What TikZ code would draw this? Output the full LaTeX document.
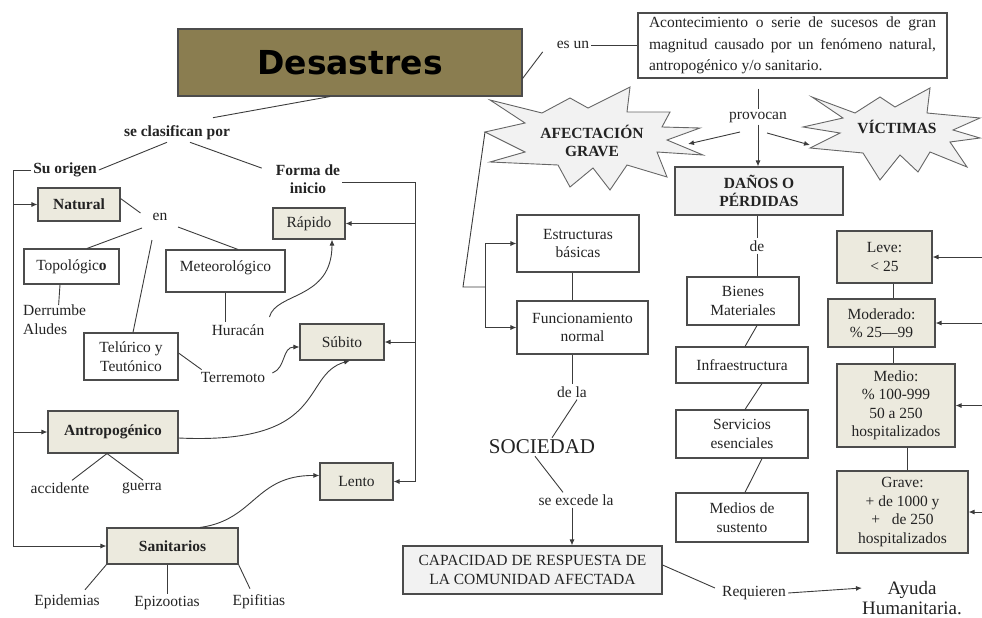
\documentclass[tikz,border=0pt]{standalone}
\usepackage{fontspec}
\setmainfont{Liberation Serif}
\newfontfamily\heavyfont{DejaVu Sans}
\usetikzlibrary{arrows.meta,calc}
\definecolor{dolive}{RGB}{138,125,80}
\definecolor{beigefill}{RGB}{236,234,222}
\definecolor{lgray}{RGB}{242,242,242}
\definecolor{linec}{RGB}{60,60,60}
\definecolor{txt}{RGB}{35,35,35}
\begin{document}
\begin{tikzpicture}[x=1pt,y=-1pt,
  every node/.style={font=\fontsize{15.5}{18.5}\selectfont, text=txt, inner sep=2pt, align=center},
  bold/.style={font=\fontsize{15.5}{18.5}\selectfont\bfseries},
  bx/.style={draw=black!70, line width=1.1pt, fill=white, inner sep=0pt},
  bb/.style={bx, fill=beigefill},
  ln/.style={draw=linec, line width=0.9pt},
  ar/.style={ln, -{Latex[length=6pt,width=5pt]}},
  burst/.style={draw=black!60, line width=0.9pt, fill=lgray, line join=miter}
  ]
\useasboundingbox (0,0) rectangle (982,618);

% ---------- title ----------
\node[draw=black!70, line width=1.1pt, fill=dolive, minimum width=344pt, minimum height=67pt,
      font=\heavyfont\bfseries\fontsize{33}{36}\selectfont, text=black] (desastres) at (350,62.5) {Desastres};

% ---------- left part ----------
\node[bold] (clasif) at (177,133) {se clasifican por};
\node[bold] (suorigen) at (65,170) {Su origen};
\node[bold] (forma) at (308,179) {Forma de\\inicio};

\node[bb, minimum width=82pt, minimum height=33pt, bold] (natural) at (79,204.5) {Natural};
\node (en) at (160,217) {en};
\node[bx, minimum width=95pt, minimum height=35pt] (topo) at (71.5,266.5) {Topológic\textbf{o}};
\node[bx, minimum width=119pt, minimum height=42pt, text height=10pt, text depth=10pt] (meteo) at (225.5,271) {Meteorológico};
\node[align=left, anchor=north west, inner sep=0pt] (derrumbe) at (23,305) {Derrumbe\\Aludes};
\node (huracan) at (238,330) {Huracán};
\node[bx, minimum width=94pt, minimum height=47pt] (telurico) at (131,356.5) {Telúrico y\\Teutónico};
\node (terremoto) at (233,377) {Terremoto};

\node[bb, minimum width=72pt, minimum height=31pt] (rapido) at (309,223.5) {Rápido};
\node[bb, minimum width=84pt, minimum height=36pt] (subito) at (342,342) {Súbito};
\node[bb, minimum width=73pt, minimum height=37pt] (lento) at (356.5,481.5) {Lento};

\node[bb, minimum width=130pt, minimum height=42pt, bold] (antropo) at (113,432) {Antropogénico};
\node (accidente) at (60,488) {accidente};
\node (guerra) at (142,488) {guerra};

\node[bb, minimum width=131pt, minimum height=36pt, bold] (sanit) at (172.5,546) {Sanitarios};
\node (epidemias) at (67,602) {Epidemias};
\node (epizootias) at (167,603) {Epizootias};
\node (epifitias) at (259,602) {Epifitias};

% ---------- right part ----------
\node (esun) at (573,45) {es un};
\node[bx, minimum width=309pt, minimum height=65pt, text width=287pt, align=justify,
      font=\fontsize{15.5}{21.5}\selectfont] (acont) at (792.5,45.5)
  {\hyphenpenalty=10000\relax Acontecimiento o serie de sucesos de gran magnitud causado por un fenómeno natural, antropogénico y/o sanitario.};
\node (provocan) at (758,117) {provocan};

\draw[burst] (490,100) -- (542,113) -- (570,98) -- (588,108) -- (630,87) -- (627,112) -- (670,112) -- (662,127)
  -- (700,128) -- (667,140) -- (703,155) -- (657,152) -- (667,177) -- (627,165) -- (610,190) -- (593,168)
  -- (570,187) -- (558,165) -- (490,162) -- (525,152) -- (485,132) -- (525,123) -- cycle;
\node[bold] (afect) at (592,141) {AFECTACIÓN\\GRAVE};

\draw[burst] (812,97) -- (855,113) -- (880,97) -- (895,107) -- (930,88) -- (927,113) -- (980,118) -- (953,130)
  -- (980,138) -- (950,142) -- (967,167) -- (930,152) -- (918,172) -- (900,155) -- (880,180) -- (863,153)
  -- (810,148) -- (840,133) -- (803,127) -- (843,118) -- cycle;
\node[bold] (victimas) at (897,127) {VÍCTIMAS};

\node[bx, fill=lgray, minimum width=168pt, minimum height=48pt, bold] (danos) at (759,191) {DAÑOS O\\PÉRDIDAS};
\node (de) at (757,246) {de};
\node[bx, minimum width=112pt, minimum height=48pt] (bienes) at (743,301) {Bienes\\Materiales};
\node[bx, minimum width=132pt, minimum height=36pt] (infra) at (742,365) {Infraestructura};
\node[bx, minimum width=132pt, minimum height=48pt] (servic) at (742,434) {Servicios\\esenciales};
\node[bx, minimum width=132pt, minimum height=49pt] (medios) at (742,517.5) {Medios de\\sustento};

\node[bb, minimum width=95pt, minimum height=52pt] (leve) at (884.5,257) {Leve:\\< 25};
\node[bb, minimum width=107pt, minimum height=48pt] (moder) at (881.5,323) {Moderado:\\\% 25---99};
\node[bb, minimum width=118pt, minimum height=83pt] (medio) at (896,405.5) {Medio:\\\% 100-999\\50 a 250\\hospitalizados};
\node[bb, minimum width=131pt, minimum height=82pt] (grave) at (902.5,512) {Grave:\\+ de 1000 y\\+\ \ \ de 250\\hospitalizados};

\node[bx, minimum width=122pt, minimum height=57pt] (estruct) at (578,243.5) {Estructuras\\básicas};
\node[bx, minimum width=131pt, minimum height=53pt] (funcion) at (582.5,327.5) {Funcionamiento\\normal};
\node (dela) at (572,392) {de la};
\node[font=\fontsize{21}{24}\selectfont] (sociedad) at (542,447) {SOCIEDAD};
\node (seexcede) at (576,500) {se excede la};
\node[bx, fill=lgray, minimum width=259pt, minimum height=48pt] (capac) at (532.5,570) {CAPACIDAD DE RESPUESTA DE\\LA COMUNIDAD AFECTADA};
\node (requieren) at (754,593) {Requieren};
\node[font=\fontsize{19}{20}\selectfont] (ayuda) at (912,598) {Ayuda\\Humanitaria.};

% ---------- connectors: left ----------
\draw[ln] ($(desastres.south)+(-20,0)$) -- ($(clasif.north)+(36,-6)$);
\draw[ln] ($(clasif.south)+(-10,0)$) -- (suorigen.east);
\draw[ln] ($(clasif.south)+(13,0)$) -- ($(forma.north west)+(-12,6)$);

\coordinate (sotop) at (13,170);
\coordinate (sobot) at (13,546);
\draw[ln] (suorigen.west) -- (sotop) -- (sobot);
\draw[ar] (sobot) -- (sanit.west);
\draw[ar] (sotop |- natural.west) -- (natural.west);
\draw[ar] (sotop |- antropo.west) -- (antropo.west);

\coordinate (fbtop) at (415,182);
\coordinate (fbbot) at (415,481.5);
\draw[ln] (forma.east |- fbtop) -- (fbtop) -- (fbbot);
\draw[ar] (fbbot) -- (lento.east);
\draw[ar] (fbtop |- rapido.east) -- (rapido.east);
\draw[ar] (fbtop |- subito.east) -- (subito.east);

\draw[ln] ($(natural.east)+(0,-6)$) -- ($(en.west)+(-10,-4)$);
\draw[ln] ($(en)+(-18,11)$) -- ($(topo.north)+(15.5,0)$);
\draw[ln] ($(en)+(-8,23)$) -- ($(telurico.north)+(2,0)$);
\draw[ln] ($(en)+(18,10)$) -- ($(meteo.north)+(12.5,0)$);
\draw[ln] ($(topo.south)+(-11.5,0)$) -- ($(derrumbe.north)+(4,0)$);
\draw[ln] (meteo.south) -- (meteo.south |- huracan.north);
\draw[ln] ($(telurico.east)+(0,-3.5)$) -- ($(terremoto.north west)+(3,0)$);

\draw[ar] ($(huracan.east)+(3,-13)$) .. controls (276,292) and (332,300) .. ($(rapido.south)+(23,0)$);
\draw[ar] ($(terremoto.east)+(5,-4)$) .. controls (286,368) and (282,347) .. ($(subito.west)+(0,5)$);
\draw[ar] ($(antropo.east)+(0,6)$) .. controls (330,445) and (300,375) .. ($(subito.south)+(8,0)$);
\draw[ar] ($(sanit.north)+(27.5,0)$) .. controls (255,520) and (255,475) .. ($(lento.west)+(0,-6)$);

\draw[ln] ($(antropo.south)+(-6,0)$) -- ($(accidente.north)+(12,0)$);
\draw[ln] ($(antropo.south)+(-6,0)$) -- ($(guerra.north)+(1,0)$);
\draw[ln] (sanit.south west) -- ($(epidemias.north)+(18,-3)$);
\draw[ln] ($(sanit.south)+(-5.5,0)$) -- (epizootias.north);
\draw[ln] (sanit.south east) -- ($(epifitias.north)+(-9,-4)$);

% ---------- connectors: right ----------
\draw[ln] ($(desastres.east)+(0,16)$) -- ($(esun.south west)+(-12,1)$);
\draw[ln] (esun.east) -- (acont.west |- esun.east);
\draw[ln] ($(acont.south -| provocan)+(0,10)$) -- (provocan.north);
\coordinate (afR) at (688,144);
\coordinate (vicL) at (810,145);
\draw[ar] ($(provocan)+(-18,15)$) -- (afR);
\draw[ar] ($(provocan)+(9,16)$) -- (vicL);
\draw[ar] (provocan.south) -- (provocan.south |- danos.north);

\coordinate (afL) at (485,132);
\coordinate (afk) at (463,287);
\coordinate (afb) at (485,287);
\draw[ln] (afL) -- (afk) -- (afb);
\draw[ln] (afb |- estruct.west) -- (afb |- funcion.west);
\draw[ar] (afb |- estruct.west) -- (estruct.west);
\draw[ar] (afb |- funcion.west) -- (funcion.west);

\draw[ln] ($(estruct.south)+(-6,0)$) -- ($(funcion.north)+(-10.5,0)$);
\draw[ln] ($(funcion.south)+(-10.5,0)$) -- (dela.north);
\draw[ln] ($(dela.south)+(5,0)$) -- ($(sociedad.north)+(10,0)$);
\draw[ln] ($(sociedad.south)+(-7,0)$) -- ($(seexcede.north)+(-13,0)$);
\draw[ar] ($(seexcede.south)+(-4,0)$) -- ($(capac.north)+(39.5,0)$);
\draw[ln] ($(capac.east)+(0,-5)$) -- ($(requieren.west)+(-5,-5)$);
\draw[ar] (requieren.east) -- ($(ayuda.west)+(2,-10)$);

\draw[ln] (danos.south -| de) -- (de.north);
\draw[ln] (de.south) -- (de.south |- bienes.north);
\draw[ln] ($(bienes.south)+(14,0)$) -- ($(infra.north)+(3,0)$);
\draw[ln] ($(infra.south)+(20,0)$) -- ($(servic.north)+(3,0)$);
\draw[ln] ($(servic.south)+(20,0)$) -- ($(medios.north)+(3,0)$);

\draw[ln] ($(leve.south)+(8.5,0)$) -- ($(moder.north)+(11.5,0)$);
\draw[ln] ($(moder.south)+(11.5,0)$) -- ($(medio.north)+(-3,0)$);
\draw[ln] ($(medio.south)+(11,0)$) -- ($(grave.north)+(4.5,0)$);

\coordinate (redge) at (982,0);
\draw[ar] (redge |- leve.east) -- (leve.east);
\draw[ar] (redge |- moder.east) -- (moder.east);
\draw[ar] (redge |- medio.east) -- (medio.east);
\draw[ar] (redge |- grave.east) -- (grave.east);
\end{tikzpicture}
\end{document}
